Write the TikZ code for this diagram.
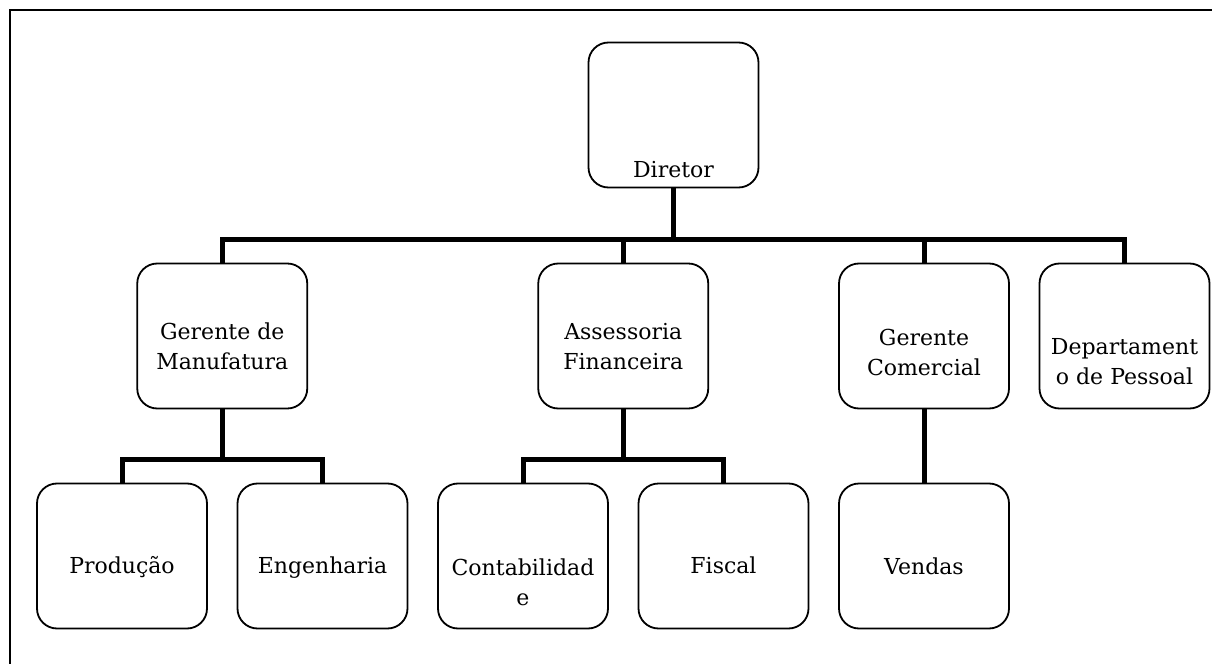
\documentclass[tikz,border=0pt]{standalone}
\usepackage{fontspec}
\setmainfont{DejaVu Serif}
\usetikzlibrary{positioning}
\tikzstyle{org box}=[
    draw,
    line width = 0.9pt,
    rounded corners = 10pt,
    minimum width = 85pt,
    minimum height = 72.5pt
]
\tikzstyle{org text}=[
    anchor = base,
    align = center,
    font = \fontsize{11}{15}\selectfont
]

\begin{document}
\begin{tikzpicture}[x=0.5pt, y=-0.5pt, node distance={100.25pt}, link/.style = {line width=2.5pt}]
        \useasboundingbox (0,0) rectangle (1212,664);
        \draw[line width=1pt] (10,664) -- (10,10) -- (1212,10);

        % boxes
        \node[org box] (prod) at (122,556) {};
        \node[org box] (eng) [right of = prod] {};
        \node[org box] (cont) [right of = eng] {};
        \node[org box] (fisc) [right of = cont] {};
        \node[org box] (vend) [right of = fisc] {};
        \node[org box] (manuf) at (222.25,336) {};
        \node[org box] (assess) at (623.25,336) {};
        \node[org box] (comerc) [above of = vend, node distance = 110pt] {};
        \node[org box] (pessoal) [right of = comerc] {};
        \node[org box] (dir) at (673.5,115) {};

        % texts (base = last line)
        \path (dir.center) ++(0,62) node[org text] (dirtxt) {Diretor};
        \path (manuf.center) ++(0,33) node[org text] (manuftxt) {Gerente de\\Manufatura};
        \path (assess.center) ++(0,33) node[org text] (assesstxt) {Assessoria\\Financeira};
        \path (comerc.center) ++(0,39) node[org text] (comerctxt) {Gerente\\Comercial};
        \path (pessoal.center) ++(0,48) node[org text] (pessoaltxt) {Departament\\o de Pessoal};
        \path (prod.center) ++(0,17) node[org text] (prodtxt) {Produção};
        \path (eng.center) ++(0,17) node[org text] (engtxt) {Engenharia};
        \path (cont.center) ++(0,49) node[org text] (conttxt) {Contabilidad\\e};
        \path (fisc.center) ++(0,17) node[org text] (fisctxt) {Fiscal};
        \path (vend.center) ++(0,18) node[org text] (vendtxt) {Vendas};

        % links
        \foreach \n in {manuf, assess, comerc, pessoal}
            \draw[link] (dir.south) -- ++(0,51) -| (\n.north);
        \foreach \n in {prod, eng}
            \draw[link] (manuf.south) -- ++(0,50) -| (\n.north);
        \foreach \n in {cont, fisc}
            \draw[link] (assess.south) -- ++(0,50) -| (\n.north);
        \draw[link] (comerc) -- (vend);

    \end{tikzpicture}
\end{document}
